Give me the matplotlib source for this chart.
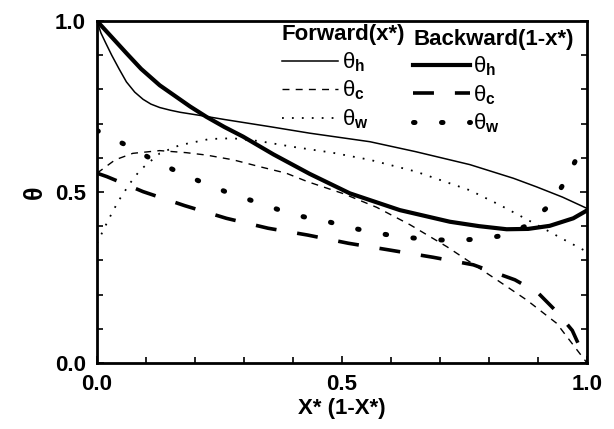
import matplotlib
matplotlib.use("Agg")
import matplotlib.pyplot as plt
from matplotlib.lines import Line2D
from matplotlib.ticker import MultipleLocator

plt.rcParams['font.family'] = ['Liberation Sans', 'DejaVu Sans']
plt.rcParams['mathtext.fontset'] = 'custom'
plt.rcParams['mathtext.rm'] = 'Liberation Sans'
plt.rcParams['mathtext.bf'] = 'Liberation Sans:bold'

# ---- data ----
fwd_h_x = [0, 0.008, 0.018, 0.03, 0.045, 0.06, 0.077, 0.094, 0.11, 0.128, 0.15, 0.17, 0.21, 0.26, 0.353, 0.434, 0.557, 0.65, 0.761, 0.85, 0.897, 0.95, 1.0]
fwd_h_y = [1.0, 0.965, 0.935, 0.9, 0.86, 0.822, 0.792, 0.771, 0.757, 0.747, 0.739, 0.733, 0.724, 0.712, 0.691, 0.672, 0.647, 0.618, 0.58, 0.54, 0.515, 0.485, 0.452]

bwd_h_x = [0, 0.03, 0.06, 0.09, 0.128, 0.16, 0.19, 0.223, 0.26, 0.298, 0.36, 0.434, 0.516, 0.618, 0.72, 0.78, 0.836, 0.88, 0.924, 0.972, 1.0]
bwd_h_y = [1.0, 0.953, 0.906, 0.86, 0.812, 0.78, 0.75, 0.72, 0.69, 0.662, 0.61, 0.553, 0.496, 0.447, 0.413, 0.4, 0.391, 0.392, 0.401, 0.423, 0.446]

fwd_c_x = [0, 0.037, 0.073, 0.128, 0.182, 0.223, 0.278, 0.332, 0.386, 0.43, 0.503, 0.571, 0.639, 0.714, 0.816, 0.877, 0.938, 1.0]
fwd_c_y = [0.555, 0.594, 0.613, 0.621, 0.615, 0.608, 0.594, 0.574, 0.555, 0.53, 0.495, 0.455, 0.404, 0.34, 0.243, 0.184, 0.116, 0.0]

fwd_w_x = [0, 0.023, 0.043, 0.067, 0.088, 0.128, 0.169, 0.23, 0.277, 0.33, 0.4, 0.48, 0.557, 0.65, 0.761, 0.822, 0.89, 0.95, 1.0]
fwd_w_y = [0.35, 0.418, 0.472, 0.525, 0.564, 0.613, 0.637, 0.655, 0.657, 0.649, 0.632, 0.615, 0.594, 0.56, 0.505, 0.462, 0.41, 0.363, 0.325]

bwd_c_x = [0, 0.02, 0.094, 0.179, 0.264, 0.349, 0.43, 0.513, 0.598, 0.686, 0.768, 0.853, 0.9, 0.938, 0.97, 1.0]
bwd_c_y = [0.555, 0.545, 0.501, 0.46, 0.423, 0.394, 0.374, 0.35, 0.33, 0.309, 0.287, 0.243, 0.205, 0.15, 0.095, 0.0]

bwd_w_x = [0, 0.016, 0.067, 0.118, 0.169, 0.22, 0.271, 0.322, 0.369, 0.42, 0.472, 0.523, 0.574, 0.625, 0.673, 0.724, 0.775, 0.822, 0.877, 0.928, 0.959, 0.982]
bwd_w_y = [0.68, 0.667, 0.632, 0.591, 0.556, 0.525, 0.496, 0.472, 0.449, 0.428, 0.413, 0.394, 0.379, 0.368, 0.362, 0.358, 0.362, 0.371, 0.401, 0.467, 0.54, 0.608]

x_ticks = [0.0, 0.5, 1.0]
y_ticks = [0.0, 0.5, 1.0]
tick_labels = ['0.0', '0.5', '1.0']
legend_labels = [r'θ$_\mathbf{h}$', r'θ$_\mathbf{c}$', r'θ$_\mathbf{w}$']

fig = plt.figure(figsize=(6.14, 4.29), dpi=100)
ax = fig.add_axes([0.158, 0.154, 0.956 - 0.158, 0.951 - 0.154])

thin_solid = dict(color='black', lw=1.1, linestyle='-')
thin_dash = dict(color='black', lw=1.0, linestyle=(0, (5, 4.5)))
thin_dot = dict(color='black', lw=1.3, linestyle=(0, (1, 4.5)))
thick_solid = dict(color='black', lw=3.0, linestyle='-')
thick_dash = dict(color='black', lw=2.6, linestyle=(0, (5.8, 5.8)))
thick_dot = dict(color='black', lw=3.6, linestyle=(0, (0.3, 5.3)), dash_capstyle='round')

ax.plot(fwd_h_x, fwd_h_y, **thin_solid)
ax.plot(fwd_c_x, fwd_c_y, **thin_dash)
ax.plot(fwd_w_x, fwd_w_y, **thin_dot)
ax.plot(bwd_h_x, bwd_h_y, **thick_solid)
ax.plot(bwd_c_x, bwd_c_y, **thick_dash)
ax.plot(bwd_w_x, bwd_w_y, **thick_dot)

ax.set_xlim(0, 1)
ax.set_ylim(0, 1)
ax.set_xticks(x_ticks)
ax.set_xticklabels(tick_labels)
ax.set_yticks(y_ticks)
ax.set_yticklabels(tick_labels)
ax.xaxis.set_minor_locator(MultipleLocator(0.1))
ax.yaxis.set_minor_locator(MultipleLocator(0.1))
ax.tick_params(which='both', direction='in', top=False, right=True, width=1.2)
ax.tick_params(which='major', length=5, labelsize=16, pad=8)
ax.tick_params(which='minor', length=4)
for lab in ax.get_xticklabels() + ax.get_yticklabels():
    lab.set_fontweight('bold')
for s in ax.spines.values():
    s.set_linewidth(2.0)

ax.set_xlabel('X* (1-X*)', fontsize=16, fontweight='bold', labelpad=2)
ax.set_ylabel('θ', fontsize=18, fontweight='bold', labelpad=6)

def handles(styles):
    return [Line2D([], [], **st) for st in styles]

common = dict(loc='upper left', frameon=False, borderpad=0, handlelength=2.55,
              handletextpad=0.15, labelspacing=0.22, borderaxespad=0,
              prop={'size': 16}, title_fontproperties={'size': 16, 'weight': 'bold'},
              alignment='left')
leg1 = ax.legend(handles([thin_solid, thin_dash, thin_dot]), legend_labels,
                 title='Forward(x*)', bbox_to_anchor=(0.377, 0.99), **common)
ax.add_artist(leg1)
leg2 = ax.legend(handles([thick_solid, thick_dash, thick_dot]), legend_labels,
                 title='Backward(1-x*)', bbox_to_anchor=(0.645, 0.978), **common)

fig.savefig('out.png', dpi=100)
